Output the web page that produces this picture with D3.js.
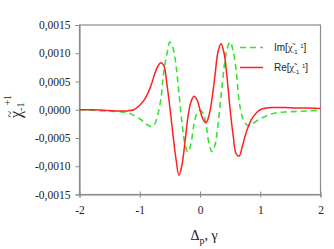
<!DOCTYPE html>
<html>
<head>
<meta charset="utf-8">
<script src="https://cdn.jsdelivr.net/npm/d3@7"></script>
<style>
  html, body { margin: 0; padding: 0; background: #fff; }
  svg { display: block; }
  .serif { font-family: "Liberation Serif", "Times New Roman", serif; }
  .sans { font-family: "Liberation Sans", Arial, sans-serif; }
</style>
</head>
<body>
<svg id="chart" width="334" height="249"></svg>
<script>
// detuning values (x axis)
const detuning = [-2, -1.8, -1.6, -1.4, -1.3, -1.2, -1.1, -1.0, -0.95, -0.9, -0.85, -0.8, -0.75, -0.7,
  -0.65, -0.6, -0.55, -0.5, -0.45, -0.4, -0.35, -0.3, -0.25, -0.2, -0.15, -0.1, -0.05, 0,
  0.05, 0.1, 0.15, 0.2, 0.25, 0.3, 0.35, 0.4, 0.45, 0.5, 0.55, 0.6, 0.65, 0.7, 0.75, 0.8,
  0.85, 0.9, 0.95, 1.0, 1.1, 1.2, 1.3, 1.4, 1.6, 1.8, 2];

// Im part (green dashed)
const imValues = [0.00000, -0.00001, -0.00002, -0.00003, -0.00004, -0.00005, -0.00010, -0.00016, -0.00020, -0.00025, -0.00028, -0.00030, -0.00025, -0.00008,
  0.00018, 0.00068, 0.00098, 0.00120, 0.00110, 0.00080, 0.00030, -0.00022, -0.00060, -0.00075, -0.00060, -0.00026, -0.00006, -0.00001,
  -0.00006, -0.00026, -0.00060, -0.00074, -0.00062, -0.00025, 0.00025, 0.00075, 0.00108, 0.00120, 0.00104, 0.00070, 0.00015, -0.00012, -0.00024, -0.00028,
  -0.00026, -0.00023, -0.00019, -0.00016, -0.00011, -0.00007, -0.00005, -0.00004, -0.00003, -0.00002, -0.00001];

// Re part (red solid)
const reValues = [0.00000, 0.00000, -0.00001, -0.00002, -0.00002, -0.00002, 0.00000, 0.00008, 0.00014, 0.00022, 0.00033, 0.00047, 0.00064, 0.00077,
  0.00083, 0.00078, 0.00046, 0.00004, -0.00043, -0.00086, -0.00116, -0.00098, -0.00058, -0.00013, 0.00014, 0.00024, 0.00018, 0.00000,
  -0.00017, -0.00023, -0.00010, 0.00020, 0.00062, 0.00103, 0.00117, 0.00100, 0.00056, 0.00000, -0.00045, -0.00078, -0.00082, -0.00066, -0.00046, -0.00030,
  -0.00018, -0.00010, -0.00004, 0.00000, 0.00003, 0.00004, 0.00004, 0.00004, 0.00003, 0.00003, 0.00002];

const xTicks = [-2, -1, 0, 1, 2];
const xTickLabels = ["-2", "-1", "0", "1", "2"];
const yTicks = [-0.0015, -0.0010, -0.0005, 0, 0.0005, 0.0010, 0.0015];
const yTickLabels = ["-0,0015", "-0,0010", "-0,0005", "0,0000", "0,0005", "0,0010", "0,0015"];

const svg = d3.select("#chart");
const plotLeft = 79.5, plotRight = 320.5, plotTop = 25, plotBottom = 194.5;
const axisColor = "#8c8c8c";

const x = d3.scaleLinear().domain([-2, 2]).range([plotLeft, plotRight]);
const y = d3.scaleLinear().domain([-0.0015, 0.0015]).range([plotBottom, plotTop]);

// frame
svg.append("rect")
  .attr("x", plotLeft).attr("y", plotTop)
  .attr("width", plotRight - plotLeft).attr("height", plotBottom - plotTop)
  .attr("fill", "none").attr("stroke", axisColor).attr("stroke-width", 1.2);

// y axis
const yAxis = svg.append("g")
  .attr("transform", `translate(${plotLeft},0)`)
  .call(d3.axisLeft(y).tickValues(yTicks).tickSize(4).tickPadding(5)
    .tickFormat((d, i) => yTickLabels[i]));
yAxis.attr("font-family", null).attr("font-size", null);
yAxis.select(".domain").attr("stroke", axisColor).attr("stroke-width", 1.2);
yAxis.selectAll(".tick line").attr("stroke", axisColor);
yAxis.selectAll("text").attr("class", "serif")
  .style("font-size", "11.5px").attr("fill", "#222");

// x axis
const xAxis = svg.append("g")
  .attr("transform", `translate(0,${plotBottom})`)
  .call(d3.axisBottom(x).tickValues(xTicks).tickSize(3).tickPadding(8)
    .tickFormat((d, i) => xTickLabels[i]));
xAxis.attr("font-family", null).attr("font-size", null);
xAxis.select(".domain").attr("stroke", axisColor).attr("stroke-width", 1.2);
xAxis.selectAll(".tick line").attr("stroke", axisColor).attr("y1", -3);
xAxis.selectAll("text").attr("class", "serif")
  .style("font-size", "11.5px").attr("fill", "#222");

// curves
const line = vals => d3.line()
  .x((d, i) => x(detuning[i]))
  .y(d => y(d))
  .curve(d3.curveCatmullRom.alpha(0.5))(vals);

svg.append("path")
  .attr("d", line(imValues))
  .attr("fill", "none").attr("stroke", "#33e633").attr("stroke-width", 1.6)
  .attr("stroke-dasharray", "6,4");

svg.append("path")
  .attr("d", line(reValues))
  .attr("fill", "none").attr("stroke", "#ff2020").attr("stroke-width", 1.5);

// legend
const legend = [
  {name: "Im", color: "#33e633", dash: "6,4", ly: 47.5},
  {name: "Re", color: "#ff2020", dash: null, ly: 67.5}
];
legend.forEach(l => {
  svg.append("line")
    .attr("x1", 240).attr("x2", 263).attr("y1", l.ly).attr("y2", l.ly)
    .attr("stroke", l.color).attr("stroke-width", 1.5)
    .attr("stroke-dasharray", l.dash);
  const t = svg.append("text").attr("class", "sans")
    .attr("x", 274).attr("y", l.ly + 3.5)
    .style("font-size", "10px").attr("fill", "#222");
  t.append("tspan").text(l.name + "[");
  t.append("tspan").attr("class", "serif").text("χ\u0303");
  t.append("tspan").style("font-size", "6px").attr("dy", 2.5).text("-1");
  t.append("tspan").style("font-size", "6px").attr("dy", -6).attr("dx", 3).text("1");
  t.append("tspan").attr("dy", 3.5).text("]");
});

// x axis title
const xt = svg.append("text").attr("class", "serif")
  .attr("x", 204).attr("y", 240)
  .attr("text-anchor", "middle")
  .style("font-size", "14px").attr("fill", "#222");
xt.append("tspan").text("Δ");
xt.append("tspan").style("font-size", "10px").attr("dy", 4).text("p");
xt.append("tspan").attr("dy", -4).text(", γ");

// y axis title
const yg = svg.append("g").attr("transform", "translate(21,118) rotate(-90)");
const yt = yg.append("text").attr("class", "serif")
  .style("font-size", "16px").attr("fill", "#222");
yt.append("tspan").text("χ");
yt.append("tspan").style("font-size", "10px").attr("dy", 3).text("-1");
yt.append("tspan").style("font-size", "10px").attr("dy", -13).attr("dx", -3).text("+1");
yg.append("text").attr("class", "serif")
  .attr("x", 0.5).attr("y", -7)
  .style("font-size", "12px").attr("fill", "#222").text("~");
</script>
</body>
</html>
